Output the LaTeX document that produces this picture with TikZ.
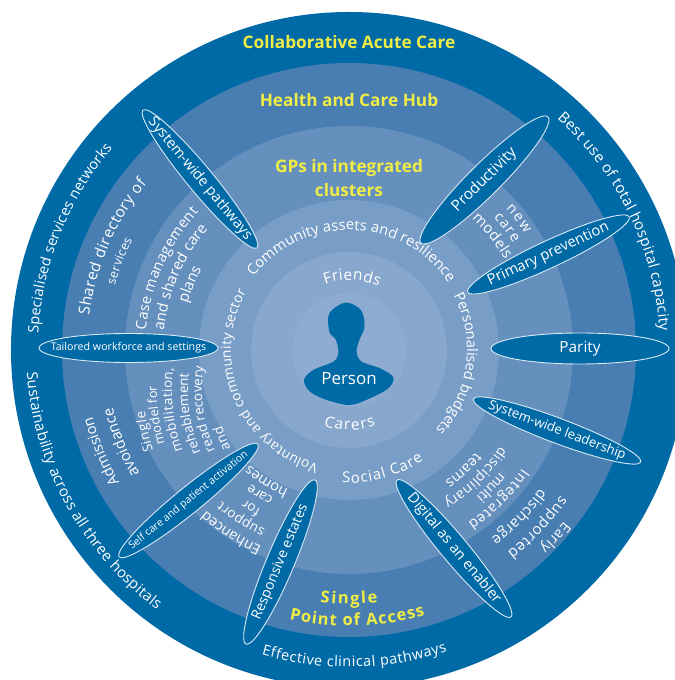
\documentclass[tikz,border=0pt]{standalone}
\usepackage{fontspec}
\setmainfont{Open Sans}
\usetikzlibrary{shapes.geometric,decorations.text}
\definecolor{ringA}{RGB}{0,106,167}
\definecolor{ringB}{RGB}{72,126,178}
\definecolor{ringC}{RGB}{101,144,190}
\definecolor{ringD}{RGB}{120,157,198}
\definecolor{ringE}{RGB}{135,167,205}
\definecolor{ringF}{RGB}{142,172,209}
\definecolor{yhead}{RGB}{240,236,70}
\tikzset{
  pill/.style={ellipse,draw=white!85!ringA,line width=0.9pt,fill=ringA,text=white,inner sep=0pt,font=\fontsize{#1}{#1}\selectfont},
  pill/.default=13.5,
  headtext/.style={text=yhead,font=\fontsize{17.3}{24}\selectfont\bfseries,align=center}
}
\newcommand\pilltxt[1]{\makebox[0pt]{#1}}
% radius, start angle, end angle, size, text
\newcommand\arctxt[5]{\path[decorate,decoration={text along path,text color=white,
  text={|\fontsize{#4}{#4}\selectfont|#5},text align={fit to path}}]
  (#2:#1bp) arc[start angle=#2,end angle=#3,radius=#1bp];}
\newcommand\archead[5]{\path[decorate,decoration={text along path,text color=yhead,
  text={|\fontsize{#4}{#4}\selectfont\bfseries|#5},text align={fit to path}}]
  (#2:#1bp) arc[start angle=#2,end angle=#3,radius=#1bp];}
\begin{document}
\begin{tikzpicture}[x=1bp,y=1bp]
\useasboundingbox (-349,-330) rectangle (326,350);
\clip (-349,-330) rectangle (326,350);
\fill[ringA] (0,0) circle[radius=338bp];
\fill[ringB] (0,0) circle[radius=287bp];
\fill[ringC] (0,0) circle[radius=224bp];
\fill[ringD] (0,0) circle[radius=150bp];
\fill[ringE] (0,0) circle[radius=98bp];
\fill[ringF] (0,0) circle[radius=57bp];
% person silhouette, traced
\begin{scope}[x=0.3333bp,y=-0.3333bp,shift={(-59bp,60bp)}]
\fill[ringA] plot[smooth cycle,tension=.55] coordinates {(165,38) (208,55) (222,85) (222,118) (208,150) (200,185) (215,215) (270,235) (310,262) (295,295) (240,325) (180,345) (110,330) (60,305) (42,270) (70,240) (130,215) (145,190) (138,150) (118,125) (118,70)};
\end{scope}
\node[text=white,font=\fontsize{17}{20}\selectfont] (person) at (0,-29) {Person};
% spokes
\node[pill=14.6,minimum width=179bp,minimum height=26bp,rotate=-50.4] (swp) at (-149,171) {\pilltxt{System-wide pathways}};
\node[pill=15.3,minimum width=179bp,minimum height=32bp,rotate=44.8] (prod) at (135.5,170) {\pilltxt{Productivity}};
\node[pill=14.8,minimum width=178bp,minimum height=27bp,rotate=25] (prim) at (199.5,95.5) {\pilltxt{Primary prevention}};
\node[pill=15.4,minimum width=178bp,minimum height=31bp] (parity) at (231,1.5) {\pilltxt{Parity}};
\node[pill=13.2,minimum width=179bp,minimum height=25bp,rotate=-20.6] (swl) at (208,-80.5) {\pilltxt{System-wide leadership}};
\node[pill=14.6,minimum width=178bp,minimum height=27bp,rotate=-50.2] (dig) at (105,-198.5) {\pilltxt{Digital as an enabler}};
\node[pill=14,minimum width=178bp,minimum height=28bp,rotate=67.2] (resp) at (-68.5,-212) {\pilltxt{Responsive estates}};
\node[pill=10.5,minimum width=179bp,minimum height=26bp,rotate=39.1] (self) at (-160.5,-150.5) {\pilltxt{Self care and patient activation}};
\node[pill=10.7,minimum width=179bp,minimum height=29bp] (tail) at (-220.5,2) {\pilltxt{Tailored workforce and settings}};
% headings
\node[headtext] (h1) at (0,308) {Collaborative Acute Care};
\node[headtext] (h2) at (0,250) {Health and Care Hub};
\node[headtext] (h3) at (0,172) {GPs in integrated\\clusters};
\archead{254}{263.5}{276.5}{16.5}{Single}
\archead{276}{257.5}{286}{16.5}{Point of Access}
% outer ring
\arctxt{311}{177}{139.5}{14.6}{Specialised services networks}
\arctxt{311}{48}{3.5}{15}{Best use of total hospital capacity}
\arctxt{323}{184}{233.5}{15}{Sustainability across all three hospitals}
\arctxt{317}{254}{288}{14.5}{Effective clinical pathways}
% ring 2
\arctxt{262}{172.5}{140.5}{15.5}{Shared directory of}
\arctxt{243}{164.5}{153}{12.5}{services}
\arctxt{265}{210}{194.5}{14.8}{Admission}
\arctxt{243}{210.5}{194}{15.2}{avoidance}
\arctxt{275}{-38.5}{-46}{14.5}{Early}
\arctxt{257}{-34.5}{-52}{15}{supported}
\arctxt{236}{-36}{-53}{15}{discharge}
% ring 3
\arctxt{204}{174.5}{137.5}{14.6}{Case management}
\arctxt{186}{174}{140.5}{15}{and shared care}
\arctxt{168}{164}{151.5}{15}{plans}
\arctxt{211}{42}{33.5}{14.5}{new}
\arctxt{196}{42.5}{33}{14.5}{care}
\arctxt{180}{47}{30}{15}{models}
\arctxt{210}{-34.5}{-55.5}{14.5}{Integrated}
\arctxt{194}{-39}{-49}{14}{multi}
\arctxt{179}{-32.5}{-58}{14}{disciplinary}
\arctxt{163}{-39}{-54}{14.5}{teams}
\arctxt{215}{246}{229}{14.5}{Enhanced}
\arctxt{198}{245}{230}{13.5}{support}
\arctxt{182}{241}{235.5}{13.5}{for}
\arctxt{166}{243}{234}{13.5}{care}
\arctxt{152}{246.5}{230}{14.5}{homes}
\begin{scope}[shift={(0,-40)}]
\arctxt{205}{197.3}{185.9}{13.5}{Single}
\arctxt{192}{196.2}{178.8}{12.8}{model for}
\arctxt{177}{200.1}{172.9}{13.5}{mobilitation,}
\arctxt{161}{202.9}{174.8}{13.5}{rehablement}
\arctxt{147}{204.5}{170.8}{13.5}{read recovery}
\arctxt{132}{206.2}{196.9}{13.5}{and}
\end{scope}
% ring 4
\arctxt{118}{255}{150.5}{13.8}{Voluntary and community sector}
\arctxt{120}{142.5}{34}{14.8}{Community assets and resilience}
\arctxt{118}{27.5}{-42.5}{14.5}{Personalised budgets}
\arctxt{133}{267}{304}{15}{Social Care}
% ring 5
\arctxt{70}{110}{65}{15.5}{Friends}
\arctxt{80}{251.5}{289.5}{15.5}{Carers}
\end{tikzpicture}
\end{document}
